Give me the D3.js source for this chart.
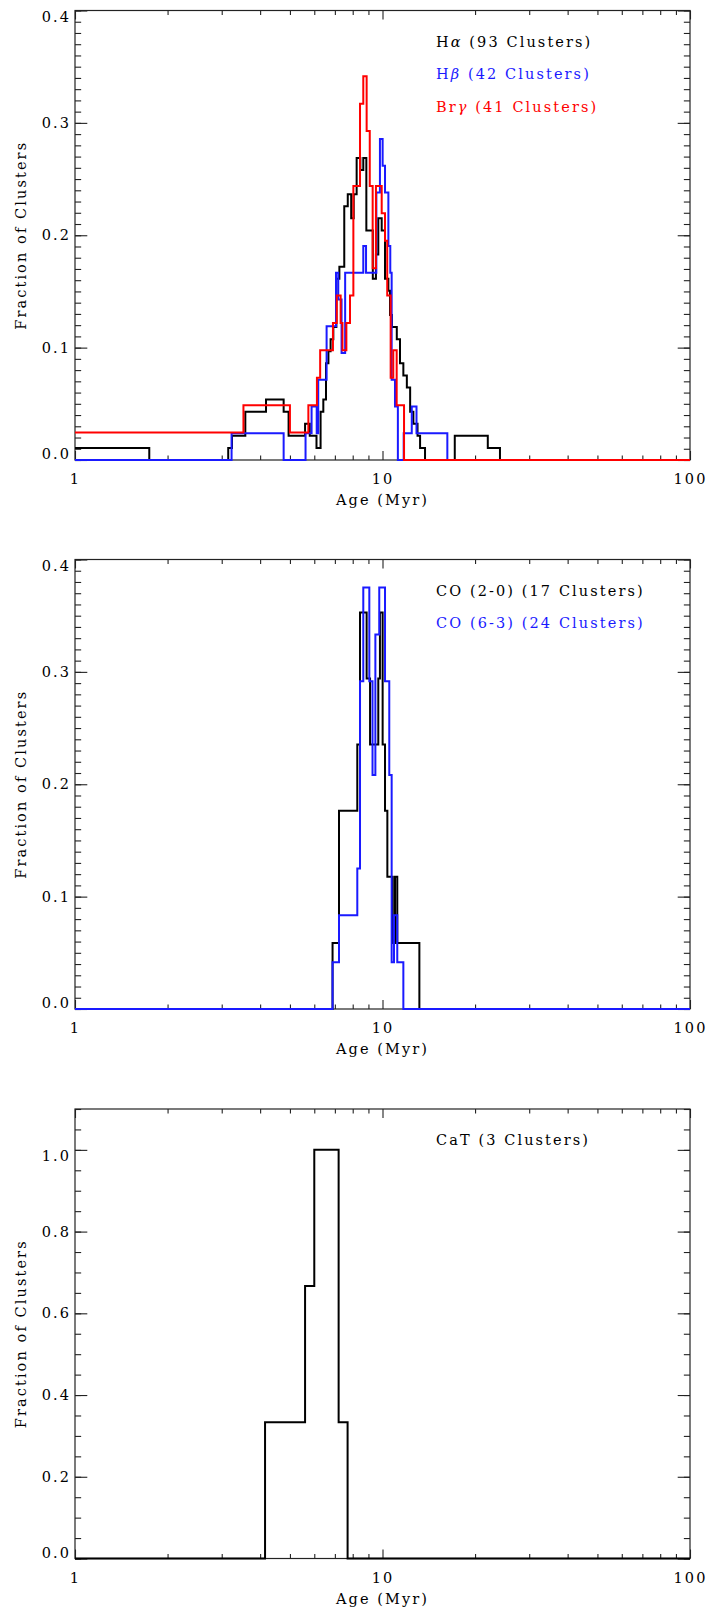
<!DOCTYPE html>
<html>
<head>
<meta charset="utf-8">
<script src="https://cdn.jsdelivr.net/npm/d3@7"></script>
<style>
body { margin: 0; background: #fff; }
svg text { font-family: "DejaVu Serif", serif; font-size: 14.5px; letter-spacing: 2.1px; fill: #000; }
</style>
</head>
<body>
<div id="chart"></div>
<script>

var width = 707;
var height = 1610;

// x axis (age, log)
var xMajor = [1, 10, 100];
var xLabels = ["1", "10", "100"];
var xMinor = [2, 3, 4, 5, 6, 7, 8, 9, 20, 30, 40, 50, 60, 70, 80, 90];

// y ticks
var yTicks04 = [0, 0.1, 0.2, 0.3, 0.4];
var yLabels04 = ["0.0", "0.1", "0.2", "0.3", "0.4"];
var yTicks11 = [0, 0.2, 0.4, 0.6, 0.8, 1.0];
var yLabels11 = ["0.0", "0.2", "0.4", "0.6", "0.8", "1.0"];

// panel 1 : H alpha (93), H beta (42), Br gamma (41)
// edges in Myr, counts = clusters in each step
var haEdges = [1, 1.744, 3.15, 3.24, 3.58, 4.18, 4.77, 4.95, 5.60, 5.80, 6.10, 6.29, 6.42, 6.55, 6.67, 6.78, 6.92, 7.08, 7.24, 7.51, 7.71, 7.91, 8.06, 8.24, 8.47, 8.66, 8.86, 9.30, 9.52, 9.69, 9.94, 10.19, 10.45, 10.58, 10.73, 11.13, 11.40, 11.69, 12.0, 12.3, 12.6, 13.0, 13.25, 13.75, 17.18, 22.0, 24.1, 100];
var haCounts = [1, 0, 1, 2, 4, 5, 4, 2, 3, 2, 1, 4, 5, 8, 9, 10, 11, 15, 16, 21, 22, 20, 22, 25, 24, 25, 19, 15, 17, 20, 19, 15, 14, 12, 11, 10, 8, 7, 6, 4, 3, 2, 1, 0, 2, 1, 0];

var hbEdges = [1, 3.23, 4.77, 5.62, 5.88, 6.11, 6.18, 6.58, 7.06, 7.18, 7.36, 7.56, 8.66, 8.84, 9.55, 9.81, 10.01, 10.19, 10.45, 10.60, 10.71, 10.98, 11.22, 11.72, 12.45, 12.9, 16.25, 100];
var hbCounts = [0, 1, 0, 1, 2, 1, 3, 5, 7, 6, 4, 7, 8, 7, 10, 12, 11, 10, 8, 7, 3, 2, 0, 1, 2, 1, 0];

var brEdges = [1, 3.53, 5.0, 5.74, 6.12, 6.27, 6.90, 7.10, 7.31, 7.41, 7.63, 7.84, 8.04, 8.45, 8.66, 8.88, 9.09, 9.29, 9.52, 9.94, 10.19, 10.36, 10.63, 10.84, 11.12, 11.75, 100];
var brCounts = [1, 2, 1, 2, 3, 4, 5, 6, 5, 4, 5, 6, 10, 13, 14, 12, 10, 7, 10, 9, 8, 6, 3, 4, 2, 0];

// panel 2 : CO (2-0) (17), CO (6-3) (24)
var co20Edges = [1, 6.88, 7.22, 8.28, 8.45, 8.88, 9.11, 9.69, 9.81, 10.01, 10.19, 10.37, 10.80, 10.98, 11.17, 13.18, 100];
var co20Counts = [0, 1, 3, 4, 6, 5, 4, 5, 6, 4, 3, 2, 1, 2, 1, 0];

var co63Edges = [1, 6.88, 7.22, 8.28, 8.45, 8.66, 9.06, 9.28, 9.48, 9.76, 10.19, 10.52, 10.71, 10.90, 11.17, 11.69, 100];
var co63Counts = [0, 1, 2, 3, 7, 9, 7, 5, 8, 9, 7, 5, 1, 2, 1, 0];

// panel 3 : CaT (3)
var catEdges = [1, 4.15, 5.60, 6.00, 7.20, 7.70, 100];
var catCounts = [0, 1, 2, 3, 1, 0];

var left = 75, right = 690;
var panelH = 449.5;

var x = d3.scaleLog()
	.domain([1, 100])
	.range([left, right]);

const svg = d3.select("#chart").append("svg")
	.attr("width", width)
	.attr("height", height);

function stepPoints(edges, counts, n) {
	var pts = counts.map((c, i) => [edges[i], c / n]);
	pts.push([edges[edges.length - 1], counts[counts.length - 1] / n]);
	return pts;
}

function drawPanel(p) {
	var top = p.top;
	var bottom = top + panelH;
	var y = d3.scaleLinear()
		.domain([0, p.yMax])
		.range([bottom, top]);

	var g = svg.append("g");
	var axisColor = "#222";
	var lastTick = p.yTicks[p.yTicks.length - 1];

	// bottom axis, major + minor
	g.append("g")
		.attr("transform", `translate(0,${bottom})`)
		.call(d3.axisBottom(x).tickValues(xMajor).tickSize(-9).tickPadding(14)
			.tickFormat((d, i) => xLabels[i]))
		.call(a => a.select(".domain").remove());
	g.append("g")
		.attr("transform", `translate(0,${bottom})`)
		.call(d3.axisBottom(x).tickValues(xMinor).tickSize(-4.5).tickFormat(""))
		.call(a => a.select(".domain").remove());
	// top axis
	g.append("g")
		.attr("transform", `translate(0,${top})`)
		.call(d3.axisTop(x).tickValues(xMajor).tickSize(-9).tickFormat(""))
		.call(a => a.select(".domain").remove());
	g.append("g")
		.attr("transform", `translate(0,${top})`)
		.call(d3.axisTop(x).tickValues(xMinor).tickSize(-4.5).tickFormat(""))
		.call(a => a.select(".domain").remove());

	// left / right axes
	g.append("g")
		.attr("transform", `translate(${left},0)`)
		.call(d3.axisLeft(y).tickValues(p.yTicks).tickSize(-12.3).tickPadding(4)
			.tickFormat((d, i) => p.yLabels[i]))
		.call(a => a.select(".domain").remove())
		// end labels sit a little inside the frame, like the original
		.call(a => a.selectAll("text")
			.attr("dy", null)
			.attr("y", d => d === 0 ? -1.5 : (d === lastTick ? 11 : 4.5)));
	g.append("g")
		.attr("transform", `translate(${left},0)`)
		.call(d3.axisLeft(y).tickValues(p.yMinor).tickSize(-6.15).tickFormat(""))
		.call(a => a.select(".domain").remove());
	g.append("g")
		.attr("transform", `translate(${right},0)`)
		.call(d3.axisRight(y).tickValues(p.yTicks).tickSize(-12.3).tickFormat(""))
		.call(a => a.select(".domain").remove());
	g.append("g")
		.attr("transform", `translate(${right},0)`)
		.call(d3.axisRight(y).tickValues(p.yMinor).tickSize(-6.15).tickFormat(""))
		.call(a => a.select(".domain").remove());

	g.selectAll(".tick line").attr("stroke", axisColor).attr("stroke-width", 1.1);
	g.selectAll(".tick text")
		.style("font-family", '"DejaVu Serif", serif')
		.style("font-size", "14.5px")
		.style("letter-spacing", "2.1px")
		.attr("fill", "#000");

	// frame
	g.append("rect")
		.attr("x", left)
		.attr("y", top)
		.attr("width", right - left)
		.attr("height", panelH)
		.attr("fill", "none")
		.attr("stroke", axisColor)
		.attr("stroke-width", 1.2);

	// step histograms
	var line = d3.line()
		.x(d => x(d[0]))
		.y(d => y(d[1]))
		.curve(d3.curveStepAfter);

	p.series.forEach(s => {
		g.append("path")
			.datum(stepPoints(s.edges, s.counts, s.n))
			.attr("fill", "none")
			.attr("stroke", s.color)
			.attr("stroke-width", 2)
			.attr("stroke-linejoin", "miter")
			.attr("d", line);
	});

	// legend
	p.legend.forEach((row, i) => {
		var t = g.append("text")
			.attr("x", 436)
			.attr("y", top + 36 + i * 32.5)
			.style("fill", row.color);
		row.parts.forEach(part => {
			t.append("tspan")
				.style("fill", row.color)
				.style("font-style", part.it ? "italic" : "normal")
				.text(part.t);
		});
	});

	// axis titles
	g.append("text")
		.attr("x", (left + right) / 2)
		.attr("y", bottom + 45)
		.attr("text-anchor", "middle")
		.text("Age (Myr)");
	g.append("text")
		.attr("transform", `translate(26,${top + panelH / 2}) rotate(-90)`)
		.attr("text-anchor", "middle")
		.text("Fraction of Clusters");
}

drawPanel({
	top: 10.5,
	yMax: 0.4,
	yTicks: yTicks04,
	yLabels: yLabels04,
	yMinor: d3.range(0, 0.4001, 0.01),
	series: [
		{edges: haEdges, counts: haCounts, n: 93, color: "#000000"},
		{edges: hbEdges, counts: hbCounts, n: 42, color: "#1a1aff"},
		{edges: brEdges, counts: brCounts, n: 41, color: "#ff0000"}
	],
	legend: [
		{color: "#000000", parts: [{t: "H"}, {t: "α", it: true}, {t: " (93 Clusters)"}]},
		{color: "#1a1aff", parts: [{t: "H"}, {t: "β", it: true}, {t: " (42 Clusters)"}]},
		{color: "#ff0000", parts: [{t: "Br"}, {t: "γ", it: true}, {t: " (41 Clusters)"}]}
	]
});

drawPanel({
	top: 559.5,
	yMax: 0.4,
	yTicks: yTicks04,
	yLabels: yLabels04,
	yMinor: d3.range(0, 0.4001, 0.01),
	series: [
		{edges: co20Edges, counts: co20Counts, n: 17, color: "#000000"},
		{edges: co63Edges, counts: co63Counts, n: 24, color: "#1a1aff"}
	],
	legend: [
		{color: "#000000", parts: [{t: "CO (2-0) (17 Clusters)"}]},
		{color: "#1a1aff", parts: [{t: "CO (6-3) (24 Clusters)"}]}
	]
});

drawPanel({
	top: 1109,
	yMax: 1.1,
	yTicks: yTicks11,
	yLabels: yLabels11,
	yMinor: d3.range(0, 1.1001, 0.05),
	series: [
		{edges: catEdges, counts: catCounts, n: 3, color: "#000000"}
	],
	legend: [
		{color: "#000000", parts: [{t: "CaT (3 Clusters)"}]}
	]
});

</script>
</body>
</html>
